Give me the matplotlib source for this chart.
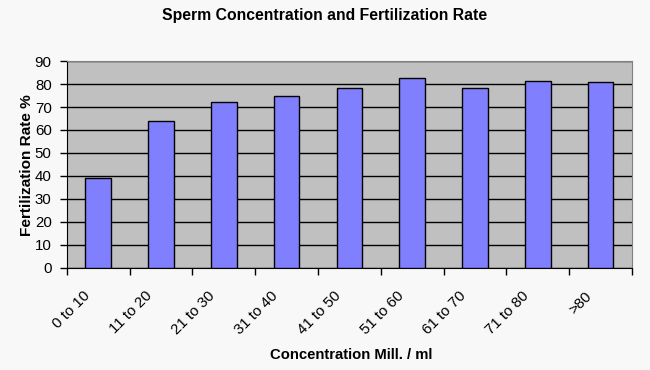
import matplotlib
matplotlib.use("Agg")
import matplotlib.pyplot as plt
import numpy as np

categories = ["0 to 10", "11 to 20", "21 to 30", "31 to 40", "41 to 50",
              "51 to 60", "61 to 70", "71 to 80", ">80"]
rates = [39.1, 63.9, 72.2, 74.8, 78.3, 82.6, 78.3, 81.3, 80.9]
yticks = list(range(0, 91, 10))

plt.rcParams['font.family'] = ['Liberation Sans', 'DejaVu Sans']

fig = plt.figure(figsize=(6.5, 3.7), dpi=100, facecolor='#F8F8F8')
ax = fig.add_axes([0.103, 0.276, 0.869, 0.559])
ax.set_facecolor('#C0C0C0')

x = np.arange(len(categories))
ax.bar(x, rates, width=0.41, color='#8080FF', edgecolor='black', linewidth=1, zorder=3)

ax.set_xlim(-0.5, len(categories) - 0.5)
ax.set_ylim(0, 90)
ax.set_yticks(yticks)
ax.yaxis.grid(True, color='black', linewidth=1, zorder=1)
ax.set_axisbelow(True)

ax.set_xticks(np.arange(len(categories) + 1) - 0.5)
ax.set_xticklabels([])
ax.set_xticks(x - 0.25, minor=True)
ax.set_xticklabels(categories, minor=True, rotation=45, ha='right', va='top',
                   rotation_mode='anchor', fontsize=10.8)
ax.tick_params(axis='x', which='minor', length=0, pad=15)
ax.tick_params(axis='x', which='major', length=5, width=1, color='black', direction='out')
ax.tick_params(axis='y', length=5, width=1, labelsize=10.8, pad=6)

for s in ['top', 'right']:
    ax.spines[s].set_color('#808080')
for s in ['left', 'bottom']:
    ax.spines[s].set_color('black')

fig.text(0.042, 0.553, "Fertilization Rate %", rotation=90, ha='center', va='center',
         fontsize=11.1, fontweight='bold')
fig.text(0.54, 0.0405, "Concentration Mill. / ml", ha='center', va='center',
         fontsize=10.7, fontweight='bold')
fig.text(0.5, 0.959, "Sperm Concentration and Fertilization Rate", ha='center', va='center',
         fontsize=11.3, fontweight='bold')

fig.savefig("out.png", dpi=100, facecolor=fig.get_facecolor())
